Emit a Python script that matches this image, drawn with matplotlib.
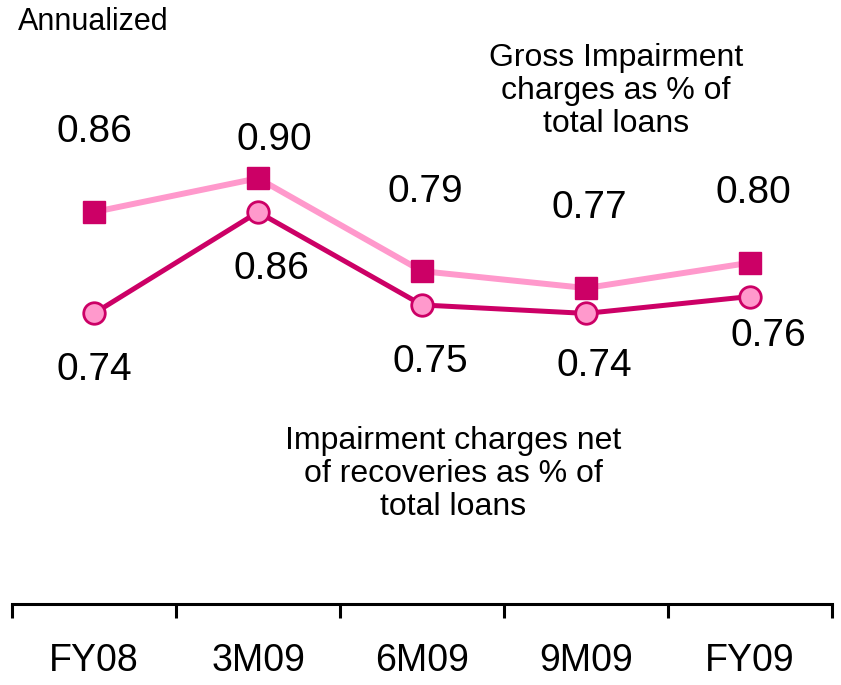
import matplotlib
matplotlib.use("Agg")
import matplotlib.pyplot as plt

plt.rcParams['font.family'] = ['Liberation Sans', 'DejaVu Sans']

categories = ["FY08", "3M09", "6M09", "9M09", "FY09"]
gross = [0.86, 0.90, 0.79, 0.77, 0.80]
net = [0.74, 0.86, 0.75, 0.74, 0.76]
gross_labels = ["0.86", "0.90", "0.79", "0.77", "0.80"]
net_labels = ["0.74", "0.86", "0.75", "0.74", "0.76"]

light = "#FF99CC"
dark = "#CC0066"

W, H = 841, 685
fig = plt.figure(figsize=(W / 100, H / 100), dpi=100)
ax = fig.add_axes([12 / W, (H - 604) / H, (832 - 12) / W, 604 / H])
ax.set_xlim(-0.5, 4.5)
ax.set_ylim(0.396, 1.111)
x = list(range(len(categories)))

ax.plot(x, gross, color=light, lw=4.3, marker="s", ms=15.5,
        mfc=dark, mec=dark, zorder=3)
ax.plot(x, net, color=dark, lw=3.6, marker="o", ms=15.5,
        mfc=light, mec=dark, mew=2, zorder=4)

g_off = [(0, 0.095), (0.1, 0.045), (0.02, 0.094), (0.02, 0.095), (0.02, 0.082)]
n_off = [(0, -0.067), (0.08, -0.068), (0.05, -0.067), (0.05, -0.062), (0.11, -0.047)]
for i in x:
    ax.text(i + g_off[i][0], gross[i] + g_off[i][1], gross_labels[i],
            ha="center", va="center", fontsize=28, color="black")
    ax.text(i + n_off[i][0], net[i] + n_off[i][1], net_labels[i],
            ha="center", va="center", fontsize=28, color="black")

for s in ["top", "right", "left"]:
    ax.spines[s].set_visible(False)
ax.spines["bottom"].set_linewidth(2.2)
ax.set_yticks([])
ax.set_xticks([-0.5, 0.5, 1.5, 2.5, 3.5, 4.5])
ax.set_xticklabels([])
ax.set_xticks(x, minor=True)
ax.set_xticklabels(categories, minor=True, fontsize=27)
ax.tick_params(axis="x", which="major", length=10, width=2.2, direction="out")
ax.tick_params(axis="x", which="minor", length=0, pad=28)

fig.text(18 / W, 1 - 22 / H, "Annualized", ha="left", va="center", fontsize=22)
fig.text(616 / W, 1 - 91 / H, "Gross Impairment\ncharges as % of\ntotal loans",
         ha="center", va="center", fontsize=23, linespacing=1.13)
fig.text(453 / W, 1 - 474 / H, "Impairment charges net\nof recoveries as % of\ntotal loans",
         ha="center", va="center", fontsize=23, linespacing=1.13)

fig.savefig("out.png", dpi=100)
